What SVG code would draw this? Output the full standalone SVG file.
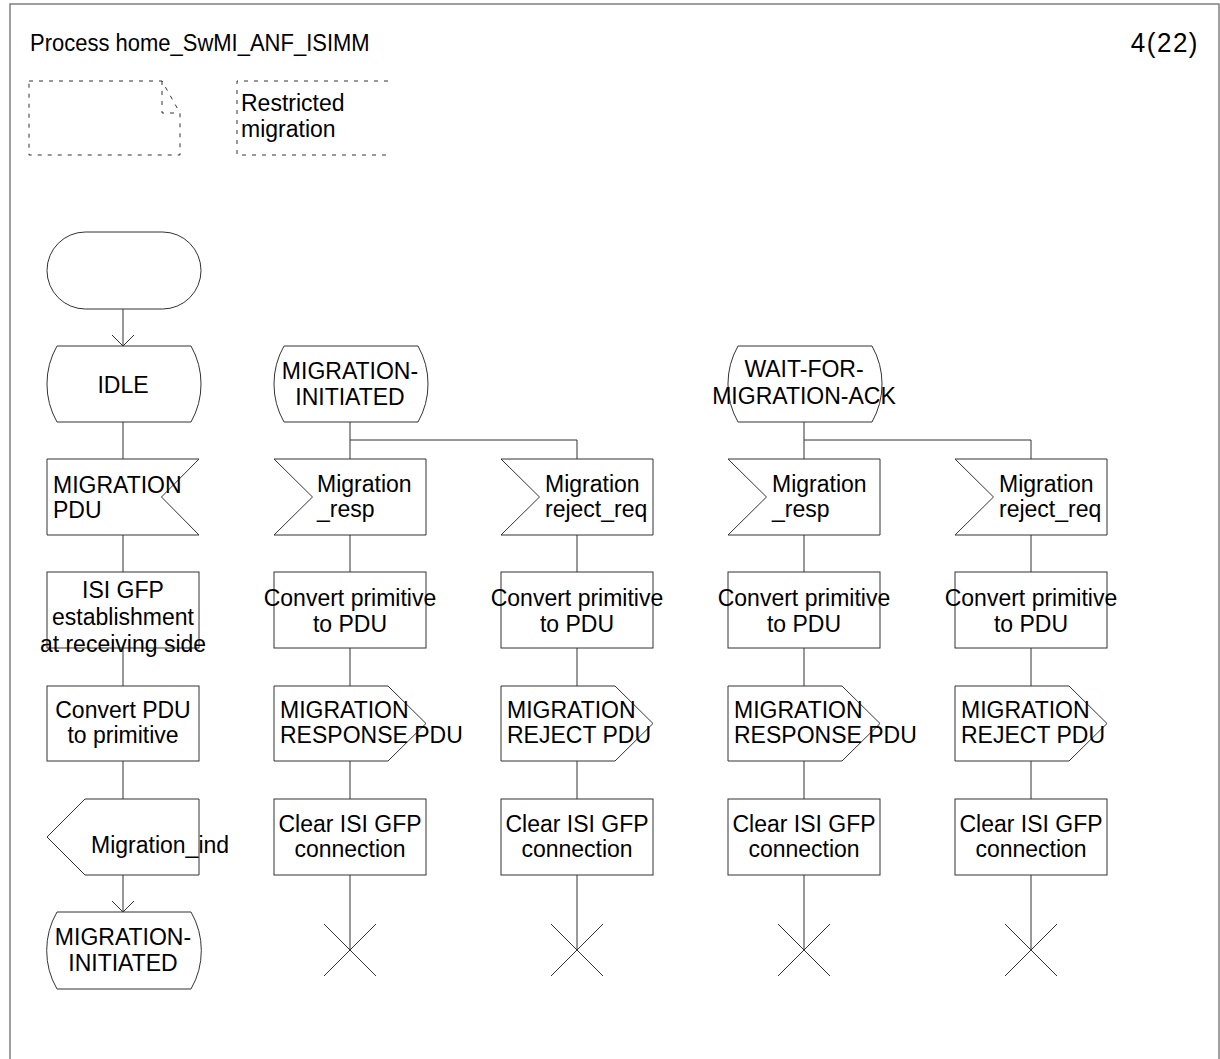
<svg xmlns="http://www.w3.org/2000/svg" width="1220" height="1059" viewBox="0 0 1220 1059">
<style>
  text { font-family: "Liberation Sans", Arial, Helvetica, sans-serif; font-size: 23px; fill: #000; }
  .c { text-anchor: middle; }
  .title { font-size: 22px; }
  .page { font-size: 26px; letter-spacing: 1.5px; text-anchor: end; }
  .shape { fill: #fff; stroke: #333; stroke-width: 1; }
  .dash { fill: none; stroke: #333; stroke-width: 1; stroke-dasharray: 4 6; }
  .conn line, .conn path, .conn polyline { fill: none; stroke: #333; stroke-width: 1; }
  .stop { fill: none; stroke: #333; stroke-width: 1; }
  .frame { fill: none; stroke: #808080; stroke-width: 1.5; }
</style>
<rect width="1220" height="1059" fill="#fff"/>
<rect class="frame" x="10" y="4" width="1209" height="1100"/>
<text class="title" transform="translate(30,51) scale(1,1.12)" x="0" y="0">Process home_SwMI_ANF_ISIMM</text>
<text class="page" transform="translate(1199,52) scale(1,1.05)" x="0" y="0">4(22)</text>

<g id="text-symbol">
  <path class="dash" d="M29,81 H162 L180,113 V155 H29 Z"/>
  <path class="dash" d="M162,81 V113 H180"/>
</g>
<g id="comment-restricted">
  <path class="dash" d="M388,81 H237 V155 H388"/>
  <text x="241" y="111">Restricted</text>
  <text x="241" y="137">migration</text>
</g>

<g class="conn" id="connectors">
  <line x1="123" y1="309" x2="123" y2="346"/>
  <polyline points="112,335 123,346 134,335"/>
  <line x1="123" y1="422" x2="123" y2="459"/>
  <line x1="123" y1="535" x2="123" y2="572"/>
  <line x1="123" y1="648" x2="123" y2="686"/>
  <line x1="123" y1="761" x2="123" y2="799"/>
  <line x1="123" y1="875" x2="123" y2="912"/>
  <polyline points="112,901 123,912 134,901"/>
  <line x1="350" y1="422" x2="350" y2="459"/>
  <path d="M350,440 H577 V459"/>
  <line x1="350" y1="535" x2="350" y2="572"/>
  <line x1="350" y1="648" x2="350" y2="686"/>
  <line x1="350" y1="761" x2="350" y2="799"/>
  <line x1="350" y1="875" x2="350" y2="950"/>
  <line x1="577" y1="535" x2="577" y2="572"/>
  <line x1="577" y1="648" x2="577" y2="686"/>
  <line x1="577" y1="761" x2="577" y2="799"/>
  <line x1="577" y1="875" x2="577" y2="950"/>
  <line x1="804" y1="422" x2="804" y2="459"/>
  <path d="M804,440 H1031 V459"/>
  <line x1="804" y1="535" x2="804" y2="572"/>
  <line x1="804" y1="648" x2="804" y2="686"/>
  <line x1="804" y1="761" x2="804" y2="799"/>
  <line x1="804" y1="875" x2="804" y2="950"/>
  <line x1="1031" y1="535" x2="1031" y2="572"/>
  <line x1="1031" y1="648" x2="1031" y2="686"/>
  <line x1="1031" y1="761" x2="1031" y2="799"/>
  <line x1="1031" y1="875" x2="1031" y2="950"/>
</g>

<g id="start">
  <rect class="shape" x="47" y="232" width="154" height="77" rx="38.5" ry="38.5"/>
</g>
<g id="state-idle">
  <path class="shape" d="M57,346 H191 A77,77 0 0 1 191,422 H57 A77,77 0 0 1 57,346 Z"/>
  <text class="c" x="123" y="393">IDLE</text>
</g>
<g id="input-migration-pdu">
  <path class="shape" d="M47,459 H199 L161.5,497 L199,535 H47 Z"/>
  <text x="53" y="493">MIGRATION</text>
  <text x="53" y="518">PDU</text>
</g>
<g id="task-isi-gfp">
  <rect class="shape" x="47" y="572" width="152" height="76"/>
  <text class="c" x="123" y="598">ISI GFP</text>
  <text class="c" x="123" y="625">establishment</text>
  <text class="c" x="123" y="652">at receiving side</text>
</g>
<g id="task-convert-pdu">
  <rect class="shape" x="47" y="686" width="152" height="75"/>
  <text class="c" x="123" y="718">Convert PDU</text>
  <text class="c" x="123" y="743">to primitive</text>
</g>
<g id="output-migration-ind">
  <path class="shape" d="M85,799 H199 V875 H85 L47,837 Z"/>
  <text x="91" y="853">Migration_ind</text>
</g>
<g id="state-migration-initiated-1">
  <path class="shape" d="M57,912 H191 A77,77 0 0 1 191,989 H57 A77,77 0 0 1 57,912 Z"/>
  <text class="c" x="123" y="945">MIGRATION-</text>
  <text class="c" x="123" y="971">INITIATED</text>
</g>

<g id="state-migration-initiated-2">
  <path class="shape" d="M284,346 H418 A77,77 0 0 1 418,422 H284 A77,77 0 0 1 284,346 Z"/>
  <text class="c" x="350" y="379">MIGRATION-</text>
  <text class="c" x="350" y="405">INITIATED</text>
</g>
<g id="input-migration-resp-1">
  <path class="shape" d="M274,459 H426 V535 H274 L312.5,497 Z"/>
  <text x="317" y="492">Migration</text>
  <text x="317" y="517">_resp</text>
</g>
<g id="task-convert-prim-1">
  <rect class="shape" x="274" y="572" width="152" height="76"/>
  <text class="c" x="350" y="606">Convert primitive</text>
  <text class="c" x="350" y="632">to PDU</text>
</g>
<g id="output-migration-response-1">
  <path class="shape" d="M274,686 H388 L426,723.5 L388,761 H274 Z"/>
  <text x="280" y="718">MIGRATION</text>
  <text x="280" y="743">RESPONSE PDU</text>
</g>
<g id="task-clear-1">
  <rect class="shape" x="274" y="799" width="152" height="76"/>
  <text class="c" x="350" y="832">Clear ISI GFP</text>
  <text class="c" x="350" y="857">connection</text>
</g>
<g id="stop-1">
  <path class="stop" d="M324,924 L376,976 M376,924 L324,976"/>
</g>

<g id="input-migration-reject-1">
  <path class="shape" d="M501,459 H653 V535 H501 L539.5,497 Z"/>
  <text x="545" y="492">Migration</text>
  <text x="545" y="517">reject_req</text>
</g>
<g id="task-convert-prim-2">
  <rect class="shape" x="501" y="572" width="152" height="76"/>
  <text class="c" x="577" y="606">Convert primitive</text>
  <text class="c" x="577" y="632">to PDU</text>
</g>
<g id="output-migration-reject-1">
  <path class="shape" d="M501,686 H615 L653,723.5 L615,761 H501 Z"/>
  <text x="507" y="718">MIGRATION</text>
  <text x="507" y="743">REJECT PDU</text>
</g>
<g id="task-clear-2">
  <rect class="shape" x="501" y="799" width="152" height="76"/>
  <text class="c" x="577" y="832">Clear ISI GFP</text>
  <text class="c" x="577" y="857">connection</text>
</g>
<g id="stop-2">
  <path class="stop" d="M551,924 L603,976 M603,924 L551,976"/>
</g>

<g id="state-wait-for-migration-ack">
  <path class="shape" d="M738,346 H872 A77,77 0 0 1 872,422 H738 A77,77 0 0 1 738,346 Z"/>
  <text class="c" x="804" y="377">WAIT-FOR-</text>
  <text class="c" x="804" y="404">MIGRATION-ACK</text>
</g>
<g id="input-migration-resp-2">
  <path class="shape" d="M728,459 H880 V535 H728 L766.5,497 Z"/>
  <text x="772" y="492">Migration</text>
  <text x="772" y="517">_resp</text>
</g>
<g id="task-convert-prim-3">
  <rect class="shape" x="728" y="572" width="152" height="76"/>
  <text class="c" x="804" y="606">Convert primitive</text>
  <text class="c" x="804" y="632">to PDU</text>
</g>
<g id="output-migration-response-2">
  <path class="shape" d="M728,686 H842 L880,723.5 L842,761 H728 Z"/>
  <text x="734" y="718">MIGRATION</text>
  <text x="734" y="743">RESPONSE PDU</text>
</g>
<g id="task-clear-3">
  <rect class="shape" x="728" y="799" width="152" height="76"/>
  <text class="c" x="804" y="832">Clear ISI GFP</text>
  <text class="c" x="804" y="857">connection</text>
</g>
<g id="stop-3">
  <path class="stop" d="M778,924 L830,976 M830,924 L778,976"/>
</g>

<g id="input-migration-reject-2">
  <path class="shape" d="M955,459 H1107 V535 H955 L993.5,497 Z"/>
  <text x="999" y="492">Migration</text>
  <text x="999" y="517">reject_req</text>
</g>
<g id="task-convert-prim-4">
  <rect class="shape" x="955" y="572" width="152" height="76"/>
  <text class="c" x="1031" y="606">Convert primitive</text>
  <text class="c" x="1031" y="632">to PDU</text>
</g>
<g id="output-migration-reject-2">
  <path class="shape" d="M955,686 H1069 L1107,723.5 L1069,761 H955 Z"/>
  <text x="961" y="718">MIGRATION</text>
  <text x="961" y="743">REJECT PDU</text>
</g>
<g id="task-clear-4">
  <rect class="shape" x="955" y="799" width="152" height="76"/>
  <text class="c" x="1031" y="832">Clear ISI GFP</text>
  <text class="c" x="1031" y="857">connection</text>
</g>
<g id="stop-4">
  <path class="stop" d="M1005,924 L1057,976 M1057,924 L1005,976"/>
</g>
</svg>
